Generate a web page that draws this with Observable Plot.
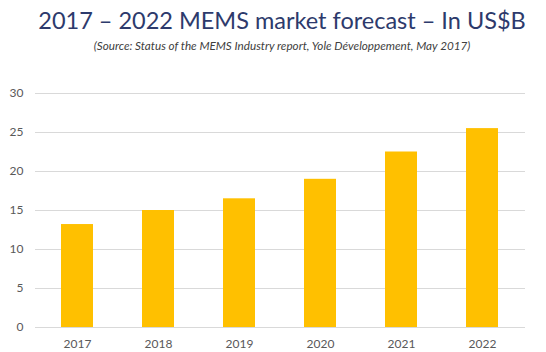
<!DOCTYPE html>
<html><head><meta charset="utf-8">
<script src="https://cdn.jsdelivr.net/npm/d3@7"></script>
<script src="https://cdn.jsdelivr.net/npm/@observablehq/plot@0.6"></script>
<style>
body{margin:0;background:#fff;font-family:Lato,"Open Sans",sans-serif;width:546px;height:352px;overflow:hidden;}
#title{position:absolute;left:9px;top:4px;width:546px;text-align:center;font-size:23.5px;line-height:32px;color:#2d3a6c;white-space:nowrap;}
#sub{position:absolute;left:9px;top:38px;width:546px;text-align:center;font-size:11.7px;font-style:italic;color:#404040;white-space:nowrap;}
#chart{position:absolute;left:0;top:60px;}
</style></head><body>
<div id="title">2017 – 2022 MEMS market forecast – In US$B</div>
<div id="sub">(Source: Status of the MEMS Industry report, Yole Développement, May 2017)</div>
<div id="chart"></div>
<script>
const years = ["2017","2018","2019","2020","2021","2022"];
const values = [13.2, 15.0, 16.5, 19.0, 22.5, 25.5];
const yTicks = [0,5,10,15,20,25,30];
const data = years.map((y,i)=>({year:y, value:values[i]}));
const chart = Plot.plot({
  width:546, height:292,
  marginTop:33, marginBottom:25, marginLeft:35, marginRight:21,
  style:{fontFamily:"Lato, 'Open Sans', sans-serif", fontSize:"12px", color:"#595959", background:"transparent"},
  x:{domain:years, paddingInner:0.6, paddingOuter:0.3, label:null, tickSize:0, tickPadding:12},
  y:{domain:[0,30], ticks:yTicks, label:null, tickSize:0, tickPadding:12},
  marks:[
    Plot.ruleY(yTicks, {stroke:"#d9d9d9", strokeWidth:1}),
    Plot.barY(data, {x:"year", y:"value", fill:"#ffc000"}),
    Plot.axisX({tickSize:0, tickPadding:12, label:null, fontSize:12}),
    Plot.axisY({ticks:yTicks, tickSize:0, tickPadding:12, label:null, fontSize:12})
  ]
});
document.getElementById("chart").appendChild(chart);
</script>
</body></html>
